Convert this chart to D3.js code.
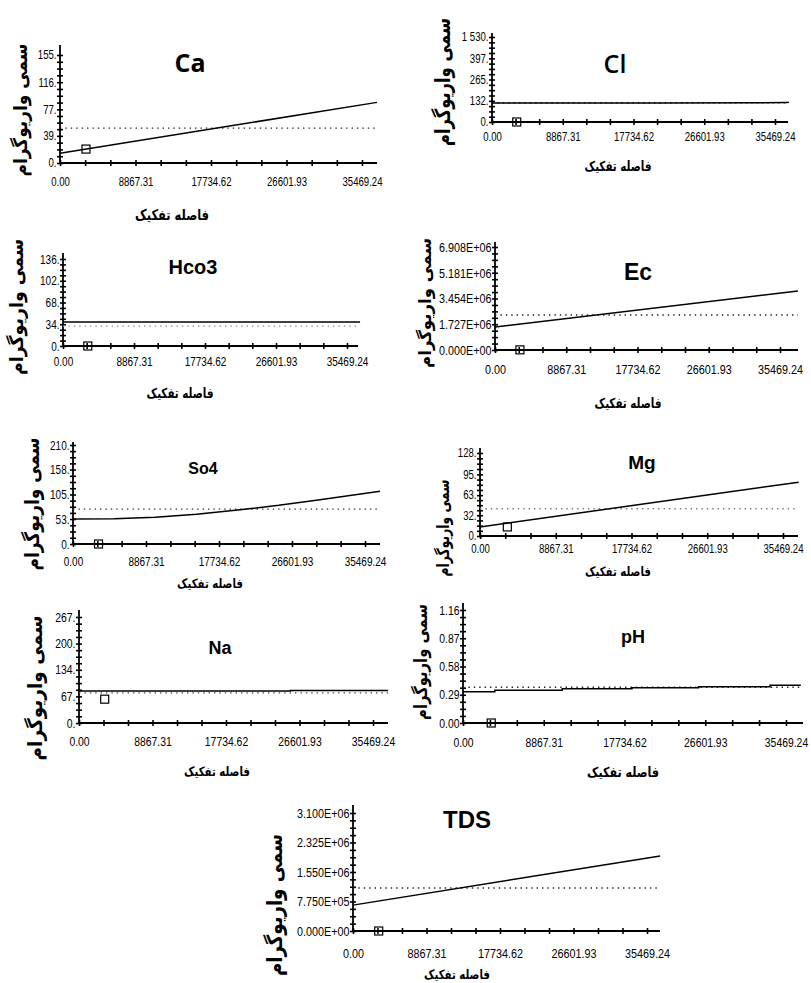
<!DOCTYPE html>
<html><head><meta charset="utf-8">
<script src="https://cdn.jsdelivr.net/npm/d3@7"></script>
<style>
html,body{margin:0;padding:0;background:#fff;}
svg{display:block;}
</style>
</head><body>
<svg id="chart" width="811" height="983"></svg>
<script>
// ---------------- DATA ----------------
const panelNames = ["Ca", "Cl", "Hco3", "Ec", "So4", "Mg", "Na", "pH", "TDS"];
const yAxisTitle = "سمی واریوگرام";
const xAxisTitle = "فاصله تفکیک";

const xTickValues = [0, 8867.31, 17734.62, 26601.93, 35469.24];
const xTickLabels = ["0.00", "8867.31", "17734.62", "26601.93", "35469.24"];

// y tick values and labels per panel
const caYTicks = [0, 39, 77, 116, 155];
const caYLabels = ["0.", "39.", "77.", "116.", "155."];
const clYTicks = [0, 132, 265, 397, 530];
const clYLabels = ["0.", "132.", "265.", "397.", "1 530."];
const hco3YTicks = [0, 34, 68, 102, 136];
const hco3YLabels = ["0.", "34.", "68.", "102.", "136."];
const ecYTicks = [0, 1.727e6, 3.454e6, 5.181e6, 6.908e6];
const ecYLabels = ["0.000E+00", "1.727E+06", "3.454E+06", "5.181E+06", "6.908E+06"];
const so4YTicks = [0, 53, 105, 158, 210];
const so4YLabels = ["0.", "53.", "105.", "158.", "210."];
const mgYTicks = [0, 32, 63, 95, 128];
const mgYLabels = ["0.", "32.", "63.", "95.", "128."];
const naYTicks = [0, 67, 134, 200, 267];
const naYLabels = ["0.", "67.", "134.", "200.", "267."];
const phYTicks = [0, 0.29, 0.58, 0.87, 1.16];
const phYLabels = ["0.00", "0.29", "0.58", "0.87", "1.16"];
const tdsYTicks = [0, 7.75e5, 1.55e6, 2.325e6, 3.1e6];
const tdsYLabels = ["0.000E+00", "7.750E+05", "1.550E+06", "2.325E+06", "3.100E+06"];

// fitted model curves [lag distance, semivariance]
const caModel = [[0, 14], [37230, 87]];
const clModel = [[0, 118], [21000, 118], [37000, 121], [37200, 125]];
const hco3Model = [[0, 37.5], [37100, 37.5]];
const ecModel = [[0, 1.54e6], [37700, 3.96e6]];
const so4Model = [[0, 53], [5000, 53.5], [10000, 57], [15000, 63], [20000, 72], [25000, 82], [30000, 94], [37300, 112]];
const mgModel = [[0, 14], [37300, 83]];
const naModel = [[0, 80.5], [25500, 80.5], [25500, 82], [37300, 82]];
const phModel = [[0, 0.321], [3500, 0.321], [3500, 0.336], [10900, 0.336], [10900, 0.352], [18550, 0.352],
                 [18550, 0.362], [25870, 0.362], [25870, 0.373], [33720, 0.373], [33720, 0.387], [37100, 0.387]];
const tdsModel = [[0, 6.8e5], [37060, 1.97e6]];

// sill (dotted line) values
const caSill = 50, clSill = 120, hco3Sill = 31, ecSill = 2.35e6, so4Sill = 74,
      mgSill = 42, naSill = 76, phSill = 0.367, tdsSill = 1.13e6;

// empirical semivariogram points [lag, semivariance]
const caPoints = [[3050, 20]];
const clPoints = [[3100, 0]];
const hco3Points = [[3100, 0]];
const ecPoints = [[3100, 0.01e6]];
const so4Points = [[3100, 0]];
const mgPoints = [[3200, 14]];
const naPoints = [[3100, 60]];
const phPoints = [[3100, 0]];
const tdsPoints = [[3100, 0]];

// ---------------- LAYOUT (pixels) ----------------
const frames = [
  {yt: caYTicks, yl: caYLabels, model: caModel, sill: caSill, pts: caPoints, sc: "#222",
   ax: 60, x35: 362, xEnd: 377, zy: 163, ty: 55, top: 45, tly: 182, fs: 12,
   atx: 172, aty: 215, atw: 74, afs: 15, ylx: 20, yly: 110, ylw: 133, yfs: 19,
   tx: 190, tyy: 62, tfs: 25, tff: "'Open Sans', 'Liberation Sans', sans-serif", tfw: 700},
  {yt: clYTicks, yl: clYLabels, model: clModel, sill: clSill, pts: clPoints, sc: "#222",
   ax: 492, x35: 775, xEnd: 788, zy: 122, ty: 37, top: 33, tly: 137, fs: 12,
   atx: 618, aty: 166, atw: 67, afs: 14, ylx: 443, yly: 82, ylw: 128, yfs: 21,
   tx: 615, tyy: 63, tfs: 25, tff: "'Open Sans', 'Liberation Sans', sans-serif", tfw: 600},
  {yt: hco3YTicks, yl: hco3YLabels, model: hco3Model, sill: hco3Sill, pts: hco3Points, sc: "#888",
   ax: 63, x35: 347, xEnd: 358, zy: 346, ty: 259, top: 253, tly: 362, fs: 12.5,
   atx: 180, aty: 393, atw: 67, afs: 14, ylx: 16, yly: 307, ylw: 136, yfs: 19,
   tx: 193, tyy: 267, tfs: 20, tff: "'Liberation Sans', Arial, sans-serif", tfw: 700},
  {yt: ecYTicks, yl: ecYLabels, model: ecModel, sill: ecSill, pts: ecPoints, sc: "#222",
   ax: 495, x35: 780, xEnd: 798, zy: 350, ty: 247, top: 242, tly: 369, fs: 13.5,
   atx: 628, aty: 403, atw: 67, afs: 14, ylx: 425, yly: 303, ylw: 130, yfs: 17,
   tx: 638, tyy: 272, tfs: 23, tff: "'Liberation Sans', Arial, sans-serif", tfw: 700},
  {yt: so4YTicks, yl: so4YLabels, model: so4Model, sill: so4Sill, pts: so4Points, sc: "#333",
   ax: 73, x35: 365, xEnd: 380, zy: 544, ty: 445, top: 442, tly: 562, fs: 12.5,
   atx: 210, aty: 584, atw: 66, afs: 13, ylx: 32, yly: 504, ylw: 133, yfs: 20,
   tx: 203, tyy: 468, tfs: 16, tff: "'Liberation Sans', Arial, sans-serif", tfw: 700},
  {yt: mgYTicks, yl: mgYLabels, model: mgModel, sill: mgSill, pts: mgPoints, sc: "#777",
   ax: 480, x35: 783, xEnd: 798, zy: 536, ty: 453, top: 448, tly: 549, fs: 12,
   atx: 618, aty: 572, atw: 66, afs: 13, ylx: 443, yly: 528, ylw: 97, yfs: 17,
   tx: 642, tyy: 462, tfs: 19, tff: "'Liberation Sans', Arial, sans-serif", tfw: 700},
  {yt: naYTicks, yl: naYLabels, model: naModel, sill: naSill, pts: naPoints, sc: "#444",
   ax: 79, x35: 373, xEnd: 388, zy: 723, ty: 617, top: 610, tly: 741, fs: 13,
   atx: 217, aty: 772, atw: 66, afs: 13, ylx: 35, yly: 688, ylw: 145, yfs: 20,
   tx: 220, tyy: 648, tfs: 18, tff: "'Liberation Sans', Arial, sans-serif", tfw: 700},
  {yt: phYTicks, yl: phYLabels, model: phModel, sill: phSill, pts: phPoints, sc: "#222",
   ax: 463, x35: 786, xEnd: 803, zy: 723, ty: 610, top: 603, tly: 742, fs: 13,
   atx: 623, aty: 772, atw: 72, afs: 14, ylx: 421, yly: 662, ylw: 116, yfs: 18,
   tx: 633, tyy: 637, tfs: 18, tff: "'Liberation Sans', Arial, sans-serif", tfw: 700},
  {yt: tdsYTicks, yl: tdsYLabels, model: tdsModel, sill: tdsSill, pts: tdsPoints, sc: "#222",
   ax: 353, x35: 647, xEnd: 660, zy: 931, ty: 813, top: 805, tly: 953, fs: 13.5,
   atx: 457, aty: 975, atw: 66, afs: 13, ylx: 275, yly: 905, ylw: 142, yfs: 21,
   tx: 467, tyy: 819, tfs: 24, tff: "'Liberation Sans', Arial, sans-serif", tfw: 700}
];

const svg = d3.select("#chart");
const tickFont = "'Liberation Sans', Arial, sans-serif";
const faFont = "'DejaVu Sans', sans-serif";
const narrow = 0.8; // horizontal compression of tick labels (condensed look)

// squeeze a text horizontally to a target length via a transform (around its anchor)
function fitWidth(node, target, base) {
  const w = node.getComputedTextLength();
  const s = w > 0 ? Math.min(1, target / w) : 1;
  d3.select(node).attr("transform", `${base || ""} scale(${s},1)`);
  return s;
}

frames.forEach((f, i) => {
  const g = svg.append("g");
  const x = d3.scaleLinear().domain([0, 35469.24]).range([f.ax, f.x35]);
  const yMax = f.yt[f.yt.length - 1];
  const y = d3.scaleLinear().domain([0, yMax]).range([f.zy, f.ty]);

  // x ticks: majors at labels, minors at thirds
  const xAll = [];
  for (let k = 0; k < xTickValues.length; k++) {
    xAll.push(xTickValues[k]);
    if (k < xTickValues.length - 1) {
      const a = xTickValues[k], b = xTickValues[k + 1];
      xAll.push(a + (b - a) / 3, a + 2 * (b - a) / 3);
    }
  }
  const xAxis = d3.axisBottom(x).tickValues(xAll).tickSize(0).tickPadding(0)
    .tickFormat(d => { const j = xTickValues.indexOf(d); return j >= 0 ? xTickLabels[j] : ""; });
  const gx = g.append("g").attr("transform", `translate(0,${f.zy})`).call(xAxis);
  gx.select(".domain").remove();
  gx.selectAll(".tick line").attr("y1", -3).attr("y2", 3).attr("stroke", "#000").attr("stroke-width", 1.6);
  gx.selectAll(".tick text").attr("y", f.tly - f.zy).attr("dy", "0.35em")
    .attr("font-family", tickFont).attr("font-size", f.fs).attr("fill", "#000")
    .attr("transform", `scale(${narrow},1)`);

  // y ticks: majors with labels, 3 minors between
  const yAll = [];
  for (let k = 0; k < f.yt.length; k++) {
    yAll.push(f.yt[k]);
    if (k < f.yt.length - 1) {
      const a = f.yt[k], b = f.yt[k + 1];
      yAll.push(a + (b - a) / 4, a + (b - a) / 2, a + 3 * (b - a) / 4);
    }
  }
  const yAxis = d3.axisLeft(y).tickValues(yAll).tickSize(0).tickPadding(3)
    .tickFormat(d => { const j = f.yt.indexOf(d); return j >= 0 ? f.yl[j] : ""; });
  const gy = g.append("g").attr("transform", `translate(${f.ax},0)`).call(yAxis);
  gy.select(".domain").remove();
  gy.selectAll(".tick line").attr("x1", -3).attr("x2", 3).attr("stroke", "#000").attr("stroke-width", 1.6);
  gy.selectAll(".tick text").attr("x", -3.5 / narrow)
    .attr("font-family", tickFont).attr("font-size", f.fs).attr("fill", "#000")
    .attr("transform", `scale(${narrow},1)`);

  // axis lines
  g.append("line").attr("x1", f.ax).attr("x2", f.xEnd).attr("y1", f.zy).attr("y2", f.zy)
    .attr("stroke", "#000").attr("stroke-width", 2);
  g.append("line").attr("x1", f.ax).attr("x2", f.ax).attr("y1", f.zy).attr("y2", f.top)
    .attr("stroke", "#000").attr("stroke-width", 1.8);

  // sill dotted line
  const hEnd = f.model[f.model.length - 1][0];
  g.append("line").attr("x1", x(0)).attr("x2", x(hEnd)).attr("y1", y(f.sill)).attr("y2", y(f.sill))
    .attr("stroke", f.sc).attr("stroke-width", 1.4).attr("stroke-dasharray", "1.4,4");

  // model line
  const line = d3.line().x(d => x(d[0])).y(d => y(d[1]));
  g.append("path").datum(f.model).attr("d", line).attr("fill", "none")
    .attr("stroke", "#000").attr("stroke-width", 1.5);

  // points
  g.selectAll("rect.pt").data(f.pts).join("rect").attr("class", "pt")
    .attr("x", d => x(d[0]) - 4).attr("y", d => y(d[1]) - 4)
    .attr("width", 8).attr("height", 8)
    .attr("fill", "none").attr("stroke", "#000").attr("stroke-width", 1.2);

  // panel title
  g.append("text").attr("x", f.tx).attr("y", f.tyy).attr("text-anchor", "middle")
    .attr("dominant-baseline", "central")
    .attr("font-family", f.tff).attr("font-weight", f.tfw).attr("font-size", f.tfs)
    .attr("fill", "#000").text(panelNames[i]);

  // x axis title
  const at = g.append("text").attr("x", 0).attr("y", 0).attr("text-anchor", "middle")
    .attr("dominant-baseline", "central").attr("direction", "rtl")
    .attr("font-family", faFont).attr("font-weight", 700).attr("font-size", f.afs)
    .attr("fill", "#000").text(xAxisTitle);
  fitWidth(at.node(), f.atw, `translate(${f.atx},${f.aty})`);

  // y axis title (rotated)
  const yt = g.append("text").attr("x", 0).attr("y", 0)
    .attr("text-anchor", "middle").attr("dominant-baseline", "central").attr("direction", "rtl")
    .attr("font-family", faFont).attr("font-weight", 700).attr("font-size", f.yfs)
    .attr("fill", "#000").text(yAxisTitle);
  fitWidth(yt.node(), f.ylw, `translate(${f.ylx},${f.yly}) rotate(-90)`);
});
</script>
</body></html>
